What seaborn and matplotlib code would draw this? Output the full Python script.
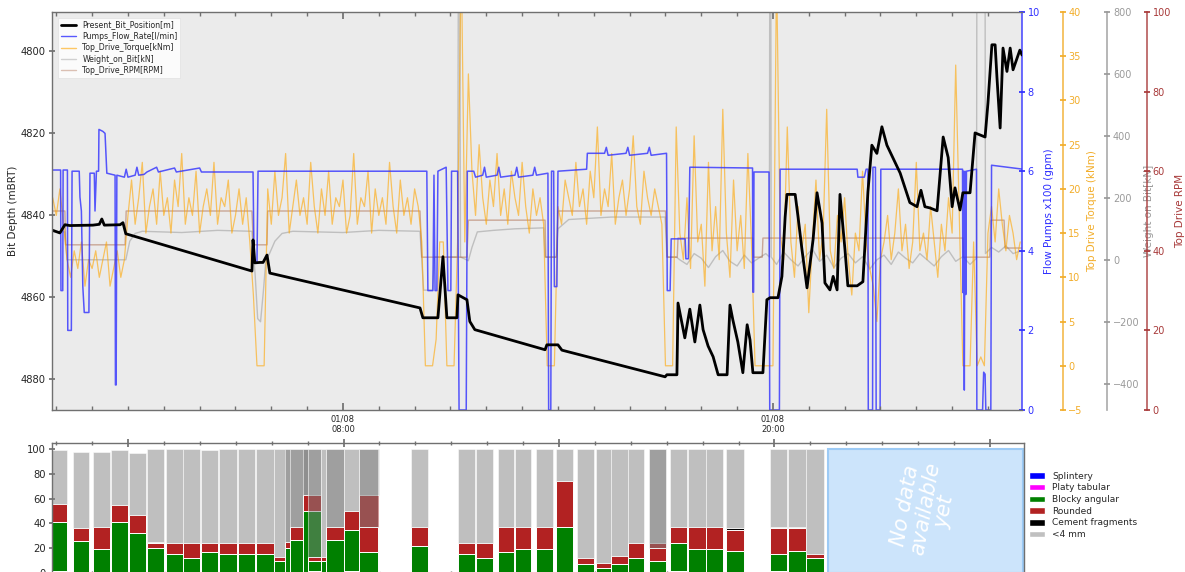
import numpy as np
import pandas as pd
import matplotlib
matplotlib.use("Agg")
import matplotlib.pyplot as plt
import seaborn as sns
from matplotlib.lines import Line2D
from matplotlib.patches import Patch, Rectangle
from matplotlib.ticker import FixedLocator, MultipleLocator

# ---------------- data (time in hours from 01/08 00:00) ----------------
X_START, X_END = -0.12, 26.95

DEPTH_T = [-0.12, 0.10, 0.24, 0.38, 1.02, 1.20, 1.27, 1.34, 1.78, 1.86,
           1.94, 5.46, 5.49, 5.54, 5.68, 5.77, 5.88, 5.96, 10.15, 10.23,
           10.65, 10.79, 10.90, 11.18, 11.21, 11.46, 11.54, 11.68, 13.64, 13.69,
           14.00, 14.11, 16.99, 17.04, 17.32, 17.35, 17.54, 17.68, 17.82, 17.96,
           18.05, 18.19, 18.33, 18.47, 18.72, 18.80, 18.88, 19.02, 19.16, 19.28,
           19.36, 19.44, 19.72, 19.83, 19.92, 20.14, 20.25, 20.34, 20.39, 20.62,
           20.70, 20.81, 20.95, 21.12, 21.23, 21.37, 21.45, 21.59, 21.68, 21.79,
           21.87, 22.01, 22.09, 22.35, 22.51, 22.65, 22.76, 22.90, 23.04, 23.18,
           23.55, 23.82, 24.02, 24.13, 24.24, 24.38, 24.58, 24.75, 24.89, 25.00,
           25.08, 25.22, 25.30, 25.50, 25.64, 25.92, 26.00, 26.11, 26.20, 26.25,
           26.34, 26.42, 26.53, 26.62, 26.70, 26.89, 26.95]
DEPTH = [4843.7, 4844.4, 4842.4, 4842.6, 4842.5, 4842.3, 4841.0, 4842.5, 4842.4, 4841.9,
         4844.6, 4853.7, 4846.1, 4851.7, 4851.6, 4851.6, 4849.8, 4854.2, 4862.7, 4865.1,
         4865.1, 4850.2, 4865.1, 4865.1, 4859.5, 4860.7, 4866.0, 4868.0, 4872.9, 4871.7,
         4871.7, 4873.0, 4879.5, 4879.0, 4879.0, 4861.5, 4870.0, 4863.0, 4871.0, 4862.0,
         4868.0, 4872.0, 4874.6, 4879.0, 4879.0, 4862.0, 4865.6, 4871.0, 4878.5, 4866.8,
         4870.5, 4878.5, 4878.5, 4860.7, 4860.2, 4860.2, 4855.0, 4840.5, 4835.0, 4835.0,
         4840.5, 4848.5, 4857.8, 4846.0, 4834.6, 4842.0, 4856.6, 4858.3, 4855.0, 4858.3,
         4835.0, 4848.5, 4857.3, 4857.3, 4856.3, 4834.4, 4823.0, 4825.0, 4818.5, 4823.0,
         4829.8, 4837.0, 4838.0, 4834.0, 4838.0, 4838.3, 4839.0, 4821.0, 4826.0, 4838.0,
         4833.4, 4838.8, 4834.6, 4834.6, 4820.0, 4821.0, 4812.7, 4798.5, 4798.5, 4806.3,
         4818.8, 4799.3, 4805.0, 4799.3, 4804.6, 4799.8, 4801.0]

FLOW_T = [-0.13, 0.12, 0.13, 0.18, 0.19, 0.31, 0.32, 0.42, 0.44, 0.64,
          0.66, 0.70, 0.74, 0.78, 0.91, 0.94, 1.06, 1.08, 1.12, 1.18,
          1.19, 1.30, 1.36, 1.41, 1.64, 1.65, 1.67, 1.69, 1.90, 1.95,
          2.00, 2.20, 2.25, 2.30, 2.45, 2.53, 2.80, 2.85, 3.30, 3.35,
          4.00, 4.05, 5.49, 5.52, 5.60, 5.63, 10.34, 10.37, 10.51, 10.54,
          10.57, 10.62, 10.65, 10.88, 10.93, 11.01, 11.03, 11.20, 11.24, 11.44,
          11.47, 11.65, 11.70, 11.90, 11.95, 12.00, 12.30, 12.35, 12.40, 12.80,
          12.85, 12.90, 13.30, 13.35, 13.40, 13.72, 13.74, 13.80, 13.82, 13.88,
          13.90, 13.97, 14.00, 14.80, 14.82, 15.30, 15.35, 15.40, 15.90, 15.95,
          16.00, 16.50, 16.55, 16.60, 17.03, 17.05, 17.13, 17.16, 17.55, 17.57,
          17.64, 17.68, 19.43, 19.44, 19.46, 19.47, 19.89, 19.91, 20.18, 20.20,
          22.35, 22.37, 22.55, 22.60, 22.65, 22.66, 22.78, 22.79, 22.86, 22.88,
          22.99, 23.01, 25.29, 25.30, 25.32, 25.34, 25.36, 25.38, 25.40, 25.68,
          25.69, 25.85, 25.88, 25.92, 25.94, 26.08, 26.10, 26.98]
FLOW = [6.03, 6.03, 3.0, 3.0, 6.03, 6.03, 2.0, 2.0, 6.0, 6.0,
        5.35, 5.0, 3.1, 2.45, 2.45, 5.95, 5.95, 5.0, 6.0, 6.0,
        7.05, 7.0, 6.95, 5.95, 5.9, 0.63, 0.63, 5.9, 5.85, 6.05,
        5.85, 5.9, 6.1, 5.9, 5.92, 5.98, 6.1, 5.98, 6.08, 5.98,
        6.08, 5.98, 5.98, 3.7, 3.7, 6.0, 6.0, 3.0, 3.0, 5.9,
        3.0, 3.0, 6.0, 6.1, 3.0, 3.0, 6.0, 6.0, 0.0, 0.0,
        6.0, 6.0, 5.85, 5.9, 6.1, 5.85, 5.9, 6.1, 5.85, 5.9,
        6.1, 5.85, 5.9, 6.1, 5.9, 5.95, 0.0, 0.0, 6.0, 6.0,
        3.1, 3.1, 6.0, 6.05, 6.45, 6.45, 6.6, 6.4, 6.45, 6.6,
        6.4, 6.45, 6.6, 6.4, 6.45, 3.0, 3.0, 4.3, 4.3, 3.8,
        3.8, 6.1, 6.08, 2.96, 2.96, 5.98, 5.98, 0.0, 0.0, 6.05,
        6.05, 5.85, 5.85, 6.05, 6.05, 0.0, 0.0, 6.1, 6.1, 0.0,
        0.0, 6.05, 6.05, 2.95, 6.0, 0.5, 6.0, 2.9, 6.0, 6.05,
        0.0, 0.0, 0.95, 0.9, 0.0, 0.0, 6.15, 6.05]

# torque sampled every 0.1 h starting at -0.1 h
TORQUE_START, TORQUE_STEP = -0.1, 0.1
TORQUE = [19, 17, 20, 16,
          12, 10, 13, 11, 14, 9, 12, 11, 13, 10, 12, 14, 9, 11, 13, 10, 12,
          17, 21, 16, 19, 23, 15, 18, 20, 16, 22, 17, 19, 15, 21, 18, 24, 16, 19,
          17, 22, 15, 18, 20, 17, 23, 16, 19, 18, 21, 15, 17, 20, 16, 19, 14,
          8, 0, 0, 0,
          20, 16, 22, 17, 19, 24, 15, 18, 21, 17, 19, 16, 23, 18, 15, 20, 17, 22,
          16, 19, 18, 21, 15, 17, 24, 16, 19, 18, 22, 15, 20, 17, 19, 16, 23, 18,
          15, 21, 17, 19, 16, 20, 18,
          14, 0, 0, 0, 3, 14, 14, 0, 0, 0, 14, 47, 14, 33,
          22, 17, 25, 19, 16, 21, 18, 24, 17, 20, 16, 22, 19, 17, 23, 18, 15, 20,
          17, 19, 16,
          0, 0, 0,
          18, 16, 21, 19, 17, 23, 18, 20, 16, 22, 19, 27, 17, 20, 18, 24, 16, 19,
          21, 17, 20, 26, 18, 16, 22, 19, 17, 20, 18, 16,
          0, 0, 0,
          27, 15, 12, 19, 11, 26, 14,
          16, 9, 23, 13, 18, 12, 29, 15, 10, 21, 13, 17, 11, 24, 14,
          0, 0, 0, 0, 0, 0, 45,
          15, 12, 27, 14, 10, 18, 13, 16, 6, 14, 21, 12, 15, 29, 13, 11, 17, 14,
          19, 12, 8, 15, 13, 22, 14, 11,
          9, 5, 12,
          14, 17, 12, 15, 20, 13, 16, 11, 14, 23, 13, 15, 12, 18, 14, 10, 16, 13,
          19, 15,
          34, 17, 0, 0, 0, 14, 0, 1, 0,
          15, 18, 14, 20, 16, 13, 17, 15, 12, 14]

WOB_T = [-0.13, 0.24, 0.30, 1.94, 2.05, 2.20, 2.40, 3.50, 4.50, 5.46,
         5.50, 5.55, 5.62, 5.70, 5.78, 5.85, 5.95, 6.10, 6.30, 6.60,
         8.00, 9.00, 10.15, 10.25, 10.50, 10.55, 11.20, 11.22, 11.26, 11.28,
         11.50, 11.60, 11.75, 12.20, 12.80, 13.60, 13.64, 13.95, 14.00, 14.30,
         15.50, 16.99, 17.04, 17.30, 17.40, 17.60, 17.80, 18.00, 18.20, 18.40,
         18.60, 18.80, 19.00, 19.20, 19.40, 19.60, 19.80, 19.90, 19.91, 19.94,
         19.95, 20.10, 20.30, 20.50, 20.70, 20.90, 21.10, 21.30, 21.50, 21.70,
         21.90, 22.10, 22.30, 22.50, 22.70, 22.90, 23.10, 23.30, 23.50, 23.70,
         23.90, 24.10, 24.30, 24.50, 24.70, 24.90, 25.10, 25.30, 25.50, 25.68,
         25.69, 25.92, 25.93, 26.10, 26.30, 26.50, 26.70, 26.95]
WOB = [90, 90, 0, 0, 60, 85, 92, 88, 95, 92,
       30, -50, -190, -200, -100, 0, 20, 60, 85, 92,
       88, 95, 92, -98, -98, 9, 9, 900, 900, 9,
       -3, 40, 90, 95, 100, 103, 9, 9, 100, 130,
       138, 138, 9, 9, 0, -15, 20, 5, -25, 10,
       30, -5, -20, 15, -10, 5, 20, 9, 900, 900,
       9, -15, 25, 0, -20, 10, 35, -5, 15, -25,
       5, 20, -10, 10, -30, 0, 15, -15, 25, 5,
       -10, 20, 0, -20, 10, 30, -5, 10, -15, 5,
       900, 900, 20, 40, 25, 45, 20, 30]

RPM_T = [-0.13, 0.24, 0.26, 1.92, 1.95, 5.46, 5.50, 5.88, 5.90, 10.15,
         10.20, 11.46, 11.50, 13.64, 13.66, 13.96, 14.00, 17.00, 17.05, 17.33,
         17.35, 19.44, 19.46, 19.70, 19.72, 25.30, 25.32, 26.05, 26.08, 26.45,
         26.48, 26.95]
RPM = [50, 50, 41.5, 41.5, 50, 50, 41.5, 41.5, 50, 50,
       38.4, 38.4, 47.7, 47.7, 38.4, 38.4, 50, 50, 38.4, 38.4,
       43.2, 43.2, 38.4, 38.4, 43.2, 43.2, 38.4, 38.4, 47.7, 47.7,
       40.7, 40.7]

# cuttings lithology bars (percent), drawn in this order
BAR_START = [-0.15, 0.46, 1.02, 1.52, 2.03, 2.53, 3.06, 3.53, 4.04, 4.54,
             5.07, 5.57, 6.07, 6.38, 6.52, 6.88, 7.02, 7.36, 7.50, 7.50,
             8.00, 8.42, 8.42, 9.87, 11.18, 11.68, 12.30, 12.77, 13.36, 13.92,
             14.50, 15.03, 15.45, 15.93, 16.51, 16.51, 17.10, 17.60, 18.10, 18.66,
             19.89, 20.39, 20.89]
BAR_END = [0.30, 0.91, 1.50, 2.00, 2.50, 3.00, 3.53, 4.00, 4.51, 5.04,
           5.54, 6.05, 6.52, 7.00, 7.00, 7.36, 7.36, 7.52, 8.00, 8.00,
           8.42, 9.00, 8.95, 10.34, 11.66, 12.16, 12.74, 13.22, 13.83, 14.39,
           14.98, 15.45, 15.93, 16.37, 16.99, 16.99, 17.57, 18.08, 18.58, 19.14,
           20.36, 20.87, 21.37]
SPLINTERY = [0] * 43
PLATY = [2, 0, 0, 1, 1, 0, 0, 0, 0, 0,
         0, 0, 0, 0, 0, 0, 2, 0, 0, 0,
         2, 0, 0, 0, 0, 0, 0, 0, 0, 0,
         0, 0, 0, 0, 0, 0, 2, 0, 0, 0,
         2, 0, 0]
BLOCKY = [39, 26, 19, 40, 31, 20, 15, 12, 17, 15,
          15, 15, 10, 20, 27, 50, 8, 10, 20, 27,
          33, 32, 17, 22, 15, 12, 17, 19, 19, 37,
          7, 4, 7, 12, 10, 10, 22, 19, 19, 18,
          13, 18, 12]
ROUNDED = [15, 10, 18, 14, 15, 4, 9, 12, 7, 9,
           9, 9, 3, 5, 10, 13, 3, 3, 4, 10,
           15, 31, 20, 15, 9, 12, 20, 18, 18, 37,
           5, 4, 7, 12, 14, 10, 13, 18, 18, 17,
           21, 18, 3]
CEMENT = [0, 0, 0, 0, 0, 1, 0, 0, 0, 0,
          0, 0, 0, 0, 0, 0, 0, 0, 0, 0,
          0, 0, 0, 0, 0, 0, 0, 0, 0, 0,
          0, 0, 0, 0, 0, 0, 0, 0, 0, 1.5,
          1.5, 1, 0]
FINES = [43, 62, 61, 44, 50, 75, 76, 76, 75, 76,
         76, 76, 87, 75, 63, 37, 87, 87, 76, 63,
         50, 37, 63, 63, 76, 76, 63, 63, 63, 26,
         88, 92, 86, 76, 76, 80, 63, 63, 63, 63.5,
         62.5, 63, 85]
NO_DATA_START, NO_DATA_END = 21.48, 26.92

CUTTING_LABELS = ["Splintery", "Platy tabular", "Blocky angular", "Rounded",
                  "Cement fragments", "<4 mm"]
LINE_LABELS = ["Present_Bit_Position[m]", "Pumps_Flow_Rate[l/min]",
               "Top_Drive_Torque[kNm]", "Weight_on_Bit[kN]", "Top_Drive_RPM[RPM]"]

# ---------------- style ----------------
sns.set_theme(style="white")
plt.rcParams["font.family"] = ["DejaVu Sans"]

C_FLOW = "#2f2fff"
C_TQ = "#f2ad2a"
C_WOB = "#9a9a9a"
C_RPM = "#a83a3a"
C_WOB_LINE = "#b4b4b4"
C_RPM_LINE = "#a0522d"
SPINE = "#707070"

fig = plt.figure(figsize=(11.85, 5.72), dpi=100)
W, H = 1185.0, 572.0
ax = fig.add_axes([52 / W, 1 - 410 / H, 970 / W, 398 / H])
ax_wob = ax.twinx()
ax_rpm = ax.twinx()
ax_tq = ax.twinx()
ax_flow = ax.twinx()
ax.set_zorder(5)
ax.patch.set_visible(False)
ax_wob.patch.set_visible(True)
ax_wob.set_facecolor("#ebebeb")

torque_t = TORQUE_START + TORQUE_STEP * np.arange(len(TORQUE))

sns.lineplot(x=WOB_T, y=WOB, ax=ax_wob, color=C_WOB_LINE, lw=1.0, alpha=0.8,
             estimator=None, sort=False, legend=False)
sns.lineplot(x=RPM_T, y=RPM, ax=ax_rpm, color=C_RPM_LINE, lw=1.0, alpha=0.45,
             estimator=None, sort=False, legend=False)
sns.lineplot(x=torque_t, y=TORQUE, ax=ax_tq, color="orange", lw=0.9, alpha=0.6,
             estimator=None, sort=False, legend=False)
sns.lineplot(x=FLOW_T, y=FLOW, ax=ax_flow, color=C_FLOW, lw=1.1, alpha=0.8,
             estimator=None, sort=False, legend=False)
sns.lineplot(x=DEPTH_T, y=DEPTH, ax=ax, color="black", lw=2.0,
             estimator=None, sort=False, legend=False)

ax.set_xlim(X_START, X_END)
ax.set_ylim(4887.6, 4790.5)
ax.set_yticks([4800, 4820, 4840, 4860, 4880])
ax.set_ylabel("Bit Depth (mBRT)", fontsize=7.5, labelpad=2)
ax.set_xlabel("")
ax.xaxis.set_major_locator(FixedLocator([8, 20]))
ax.xaxis.set_minor_locator(MultipleLocator(1))
ax.set_xticklabels(["01/08\n08:00", "01/08\n20:00"])
ax.tick_params(axis="x", which="both", direction="in", top=True, bottom=True,
               labelsize=6, color=SPINE, pad=3)
ax.tick_params(axis="x", which="major", length=5)
ax.tick_params(axis="x", which="minor", length=3)
ax.tick_params(axis="y", direction="inout", length=5, labelsize=7.2, left=True,
               color=SPINE, pad=2)
for s in ["left", "top", "bottom"]:
    ax.spines[s].set_color(SPINE)
    ax.spines[s].set_linewidth(1.0)
ax.spines["right"].set_visible(False)

twins = [
    (ax_flow, 1.0, C_FLOW, (0, 10), np.arange(0, 11, 2), "Flow Pumps x100 (gpm)"),
    (ax_tq, 1.042, C_TQ, (-5, 40), np.arange(-5, 41, 5), "Top Drive Torque (kNm)"),
    (ax_wob, 1.088, C_WOB, (-485, 800), np.arange(-400, 801, 200), "Weight on Bit[kN]"),
    (ax_rpm, 1.129, C_RPM, (0, 100), np.arange(0, 101, 20), "Top Drive RPM"),
]
for a, pos, col, lim, ticks, lab in twins:
    a.set_ylim(*lim)
    a.set_yticks(ticks)
    for s in ["left", "top", "bottom"]:
        a.spines[s].set_visible(False)
    a.spines["right"].set_visible(True)
    a.spines["right"].set_position(("axes", pos))
    a.spines["right"].set_color(col)
    a.spines["right"].set_alpha(0.8)
    a.tick_params(axis="y", colors=col, labelsize=7, direction="inout", length=4,
                  right=True, left=False, pad=2)
    a.set_ylabel(lab, color=col, fontsize=7.5, labelpad=3)
    a.set_xlabel("")

handles = [Line2D([], [], color="black", lw=2),
           Line2D([], [], color=C_FLOW, lw=1, alpha=0.8),
           Line2D([], [], color="orange", lw=1, alpha=0.6),
           Line2D([], [], color=C_WOB_LINE, lw=1, alpha=0.6),
           Line2D([], [], color=C_RPM_LINE, lw=1, alpha=0.35)]
leg = ax.legend(handles, LINE_LABELS, loc="upper left", fontsize=5.6, frameon=True,
                framealpha=0.85, fancybox=False, borderpad=0.35, labelspacing=0.3,
                handlelength=2.0, bbox_to_anchor=(0.002, 0.995))
leg.get_frame().set_edgecolor("#dddddd")
leg.get_frame().set_linewidth(0.5)

# ---------------- bottom: cuttings chart ----------------
axb = fig.add_axes([52 / W, 1 - 573 / H, 972 / W, 130 / H])
axb.set_facecolor("white")
layer_cols = ["blue", "magenta", "green", "#b22222", "black", "#808080"]
layer_alpha = [1, 1, 1, 1, 1, 0.5]
layers = [SPLINTERY, PLATY, BLOCKY, ROUNDED, CEMENT, FINES]
for i in range(len(BAR_START)):
    bottom = 0.0
    for vals, col, al in zip(layers, layer_cols, layer_alpha):
        v = vals[i]
        if v > 0:
            axb.bar(BAR_START[i], v, width=BAR_END[i] - BAR_START[i], bottom=bottom,
                    align="edge", color=col, alpha=al, edgecolor="white",
                    linewidth=0.7)
        bottom += v

axb.add_patch(Rectangle((NO_DATA_START, 0), NO_DATA_END - NO_DATA_START, 100,
                        facecolor="#cce4fb", edgecolor="#9ccaf5", lw=1.5))
axb.text((NO_DATA_START + NO_DATA_END) / 2, 52, "No data\navailable\nyet",
         rotation=80, color="white", fontsize=15, style="italic",
         ha="center", va="center", linespacing=1.0)

axb.set_xlim(X_START, X_END)
axb.set_ylim(0, 105)
axb.set_yticks(np.arange(0, 101, 20))
axb.xaxis.set_major_locator(FixedLocator([2, 8, 14, 20, 26]))
axb.xaxis.set_minor_locator(MultipleLocator(1))
axb.set_xticklabels([])
axb.tick_params(axis="x", which="both", direction="inout", top=True, bottom=True,
                color=SPINE)
axb.tick_params(axis="x", which="major", length=6)
axb.tick_params(axis="x", which="minor", length=3)
axb.tick_params(axis="y", direction="inout", length=5, labelsize=7.2, left=True,
                color=SPINE, pad=2)
for s in axb.spines.values():
    s.set_color(SPINE)
    s.set_linewidth(1.0)

cut_handles = [Patch(facecolor=c) for c in ["blue", "magenta", "green", "#b22222",
                                             "black", "#c0c0c0"]]
axb.legend(cut_handles, CUTTING_LABELS, loc="center left", bbox_to_anchor=(1.0, 0.52),
           frameon=False, fontsize=6.5, handlelength=1.7, handleheight=0.75,
           labelspacing=0.3, borderaxespad=0.2)

fig.savefig("out.png", dpi=100)
